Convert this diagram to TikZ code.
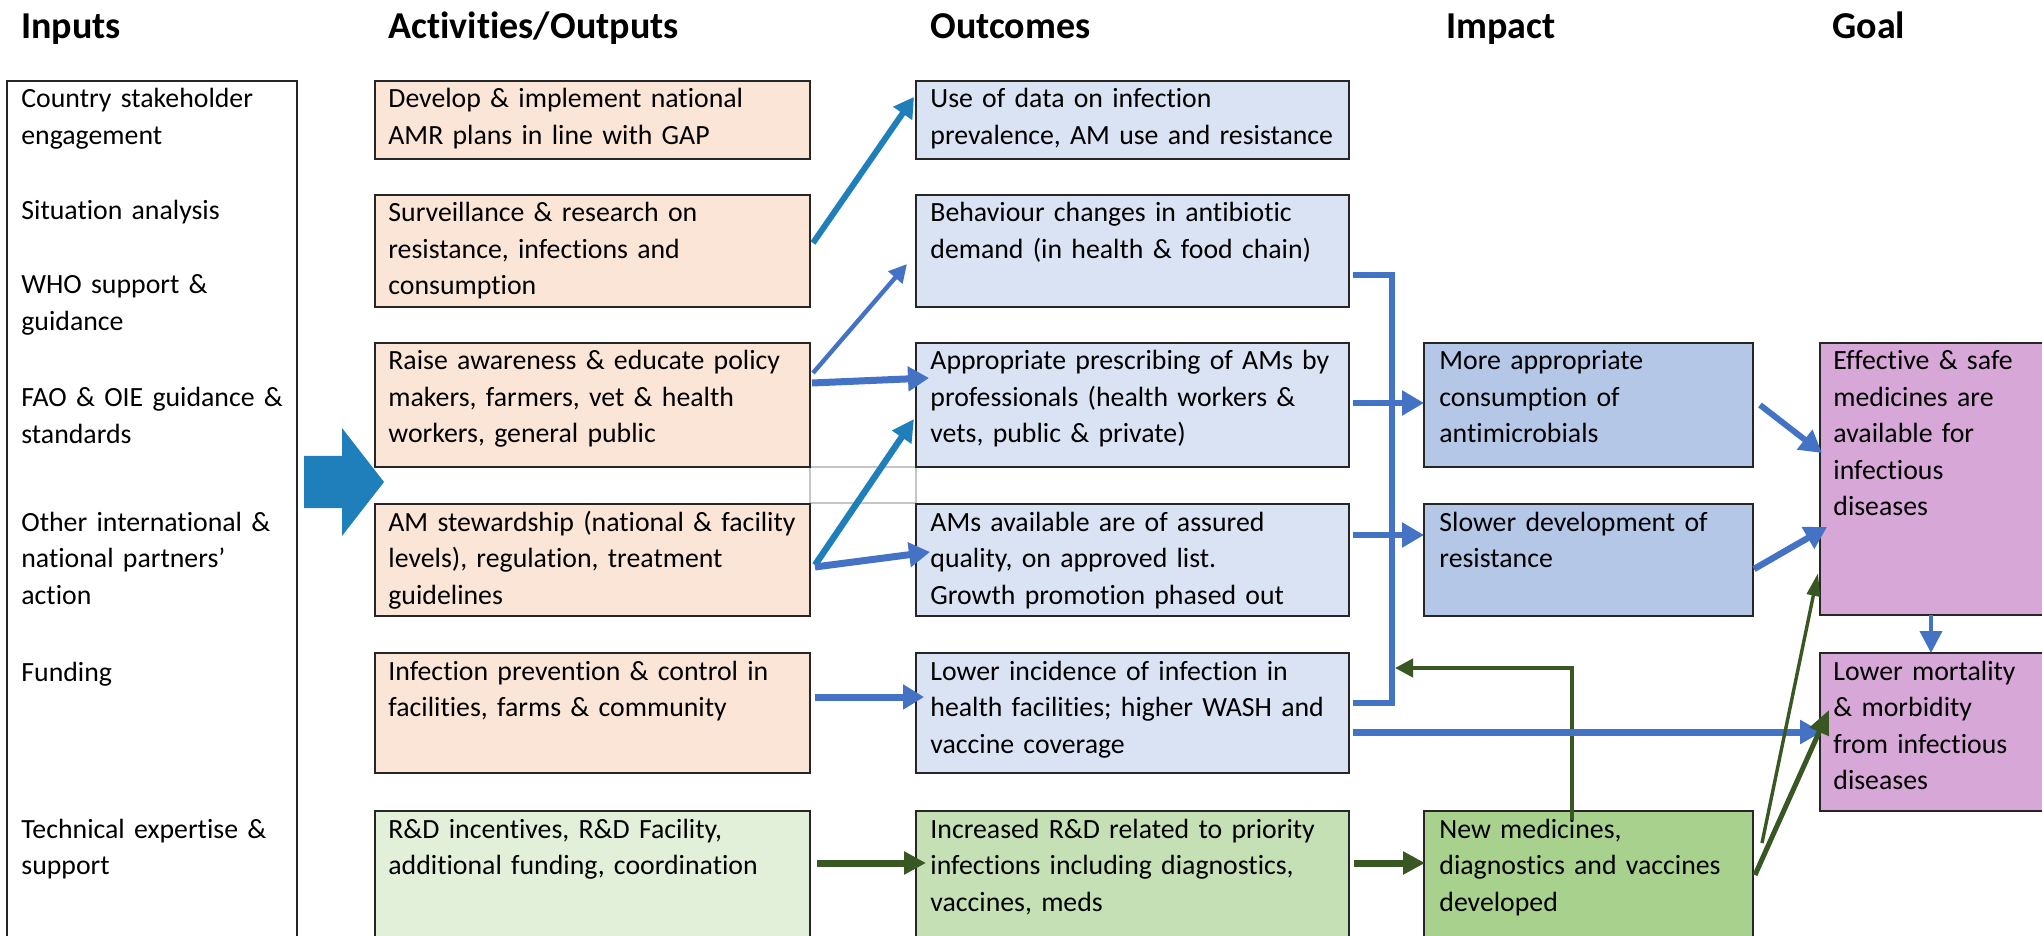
\documentclass[tikz,border=0pt]{standalone}
\usepackage{fontspec}
\setmainfont{Carlito}[Ligatures={NoCommon}]
\usetikzlibrary{arrows.meta,calc,fit}
\definecolor{orf}{RGB}{251,229,214}
\definecolor{blf}{RGB}{218,227,243}
\definecolor{imf}{RGB}{180,199,231}
\definecolor{gof}{RGB}{215,167,216}
\definecolor{gaf}{RGB}{226,240,217}
\definecolor{gbf}{RGB}{197,224,180}
\definecolor{gcf}{RGB}{169,209,142}
\definecolor{cBlue}{RGB}{68,114,196}
\definecolor{cTeal}{RGB}{31,127,186}
\definecolor{cGreen}{RGB}{56,87,35}
\begin{document}
\begin{tikzpicture}[x=0.5pt,y=-0.5pt,
  bx/.style={draw=black!85, line width=1pt, inner sep=0pt, outer sep=0pt},
  txt/.style={anchor=base west, inner sep=0pt, text width=300pt, align=left, font=\fontsize{13.9}{18.25}\selectfont},
  ttl/.style={anchor=base west, inner sep=0pt, font=\fontsize{19}{22}\selectfont\bfseries},
  thickb/.style={draw=cBlue, line width=3.5pt, -{Triangle[length=10.5pt,width=12pt]}},
  busb/.style={draw=cBlue, line width=3pt, -{Triangle[length=11pt,width=12pt]}},
  thickg/.style={draw=cGreen, line width=3.5pt, -{Triangle[length=11pt,width=11pt]}}
]
\useasboundingbox (0,0) rectangle (2042,936);
\clip (0,0) rectangle (2042,936);
\fill[white] (0,0) rectangle (2042,936);

% titles
\node[ttl] (h1) at (21,39) {Inputs};
\node[ttl] (h2) at (388,39) {Activities/Outputs};
\node[ttl] (h3) at (930,39) {Outcomes};
\node[ttl] (h4) at (1446,39) {Impact};
\node[ttl] (h5) at (1832,39) {Goal};

% inputs
\node[bx, fit={(7,81) (297,980)}] (IN) {};
\node[txt] (in1) at (21,108) {Country stakeholder\\engagement};
\node[txt] (in2) at (21,220) {Situation analysis};
\node[txt] (in3) at (21,294) {WHO support \&\\guidance};
\node[txt] (in4) at (21,407) {FAO \& OIE guidance \&\\standards};
\node[txt] (in5) at (21,531) {Other international \&\\national partners’\\action};
\node[txt] (in6) at (21,681) {Funding};
\node[txt] (in7) at (21,838) {Technical expertise \&\\support};

% block arrow
\fill[cTeal] (304,456) -- (342,456) -- (342,428) -- (384,482) -- (342,536) -- (342,508) -- (304,508) -- cycle;

% grey grid remnant
\draw[gray!45, line width=0.7pt] (810,467) rectangle (916,503);

% activities
\node[bx, fill=orf, fit={(375,81) (810,159)}] (A1) {};
\node[bx, fill=orf, fit={(375,195) (810,307)}] (A2) {};
\node[bx, fill=orf, fit={(375,343) (810,467)}] (A3) {};
\node[bx, fill=orf, fit={(375,504) (810,616)}] (A4) {};
\node[bx, fill=orf, fit={(375,653) (810,773)}] (A5) {};
\node[bx, fill=gaf, fit={(375,811) (810,980)}] (A6) {};
\node[txt] (tA1) at ($(A1.north west)+(13,27)$) {Develop \& implement national\\AMR plans in line with GAP};
\node[txt] (tA2) at ($(A2.north west)+(13,27)$) {Surveillance \& research on\\resistance, infections and\\consumption};
\node[txt] (tA3) at ($(A3.north west)+(13,27)$) {Raise awareness \& educate policy\\makers, farmers, vet \& health\\workers, general public};
\node[txt] (tA4) at ($(A4.north west)+(13,27)$) {AM stewardship (national \& facility\\levels), regulation, treatment\\guidelines};
\node[txt] (tA5) at ($(A5.north west)+(13,27)$) {Infection prevention \& control in\\facilities, farms \& community};
\node[txt] (tA6) at ($(A6.north west)+(13,27)$) {R\&D incentives, R\&D Facility,\\additional funding, coordination};

% outcomes
\node[bx, fill=blf, fit={(916,81) (1349,159)}] (O1) {};
\node[bx, fill=blf, fit={(916,195) (1349,307)}] (O2) {};
\node[bx, fill=blf, fit={(916,343) (1349,467)}] (O3) {};
\node[bx, fill=blf, fit={(916,504) (1349,616)}] (O4) {};
\node[bx, fill=blf, fit={(916,653) (1349,773)}] (O5) {};
\node[bx, fill=gbf, fit={(916,811) (1349,980)}] (O6) {};
\node[txt] (tO1) at ($(O1.north west)+(14,27)$) {Use of data on infection\\prevalence, AM use and resistance};
\node[txt] (tO2) at ($(O2.north west)+(14,27)$) {Behaviour changes in antibiotic\\demand (in health \& food chain)};
\node[txt] (tO3) at ($(O3.north west)+(14,27)$) {Appropriate prescribing of AMs by\\professionals (health workers \&\\vets, public \& private)};
\node[txt] (tO4) at ($(O4.north west)+(14,27)$) {AMs available are of assured\\quality, on approved list.\\Growth promotion phased out};
\node[txt] (tO5) at ($(O5.north west)+(14,27)$) {Lower incidence of infection in\\health facilities; higher WASH and\\vaccine coverage};
\node[txt] (tO6) at ($(O6.north west)+(14,27)$) {Increased R\&D related to priority\\infections including diagnostics,\\vaccines, meds};

% impact
\node[bx, fill=imf, fit={(1424,343) (1753,467)}] (I1) {};
\node[bx, fill=imf, fit={(1424,504) (1753,616)}] (I2) {};
\node[bx, fill=gcf, fit={(1424,811) (1753,980)}] (I3) {};
\node[txt] (tI1) at ($(I1.north west)+(15,27)$) {More appropriate\\consumption of\\antimicrobials};
\node[txt] (tI2) at ($(I2.north west)+(15,27)$) {Slower development of\\resistance};
\node[txt] (tI3) at ($(I3.north west)+(15,27)$) {New medicines,\\diagnostics and vaccines\\developed};

% goal
\node[bx, fill=gof, fit={(1820,343) (2070,615)}] (G1) {};
\node[bx, fill=gof, fit={(1820,653) (2070,811)}] (G2) {};
\node[txt] (tG1) at ($(G1.north west)+(13,27)$) {Effective \& safe\\medicines are\\available for\\infectious\\diseases};
\node[txt] (tG2) at ($(G2.north west)+(13,27)$) {Lower mortality\\\& morbidity\\from infectious\\diseases};

% activities -> outcomes
\draw[draw=cTeal, line width=3pt, -{Triangle[length=10pt,width=11pt]}] ($(A2.east)+(3,-8)$) -- ($(O1.west)+(-2,-23)$);
\draw[draw=cBlue, line width=2.2pt, -{Triangle[length=9pt,width=9pt]}] ($(A3.east)+(3,-32)$) -- ($(O2.south west)+(-9,-43)$);
\draw[thickb] ($(A3.east)+(2,-22)$) -- ($(O3.west)+(13,-27)$);
\draw[draw=cTeal, line width=3.2pt, -{Triangle[length=11pt,width=11pt]}] ($(A4.east)+(5,5)$) -- ($(O3.west)+(-2,14)$);
\draw[thickb] ($(A4.east)+(5,7)$) -- ($(O4.west)+(14,-8)$);
\draw[thickb] ($(A5.east)+(5,-16)$) -- ($(O5.west)+(8,-16)$);
\draw[thickg] ($(A6.north east)+(7,52)$) -- ($(O6.north west)+(10,52)$);

% outcomes -> impact (bus)
\coordinate (busT) at (1392,275);
\coordinate (busB) at (1392,703);
\draw[draw=cBlue, line width=3pt, line join=miter] ($(O2.east)+(4,24)$) -- (busT) -- (busB) -- ($(O5.east)+(4,-10)$);
\draw[busb] ($(O3.east)+(4,-2)$) -- ($(I1.west)+(0,-2)$);
\draw[busb] ($(O4.east)+(4,-25)$) -- ($(I2.west)+(0,-25)$);
\draw[thickg] ($(O6.north east)+(5,52)$) -- ($(I3.north west)+(1,52)$);

% feedback from new medicines
\coordinate (fb) at (1395,668);
\draw[draw=cGreen, line width=2pt, -{Triangle[length=9pt,width=9pt]}] ($(I3.north west)+(148,9)$) |- (fb);

% to goals
\draw[draw=cBlue, line width=3.5pt, -{Triangle[length=11pt,width=11.5pt]}] ($(O5.east)+(4,19)$) -- ($(G2.west)+(2,0)$);
\draw[draw=cBlue, line width=3pt, -{Triangle[length=11pt,width=12pt]}] ($(I1.east)+(7,0)$) -- ($(G1.west)+(2,-26)$);
\draw[draw=cBlue, line width=3.2pt, -{Triangle[length=11pt,width=12pt]}] ($(I2.east)+(1,9)$) -- ($(G1.west)+(7,48)$);
\draw[draw=cBlue, line width=2pt, -{Triangle[length=11pt,width=11pt]}] ($(G1.south west)+(111,0)$) -- ($(G2.north west)+(111,0)$);
\draw[draw=cGreen, line width=2.5pt, -{Triangle[length=12pt,width=10pt]}] ($(I3.north east)+(2,64)$) -- ($(G2.west)+(9,-22)$);
\draw[draw=cGreen, line width=1.7pt, -{Triangle[length=11.5pt,width=6.5pt]}] ($(I3.north east)+(9,32)$) -- ($(G1.south west)+(-2,-42)$);
\end{tikzpicture}
\end{document}
